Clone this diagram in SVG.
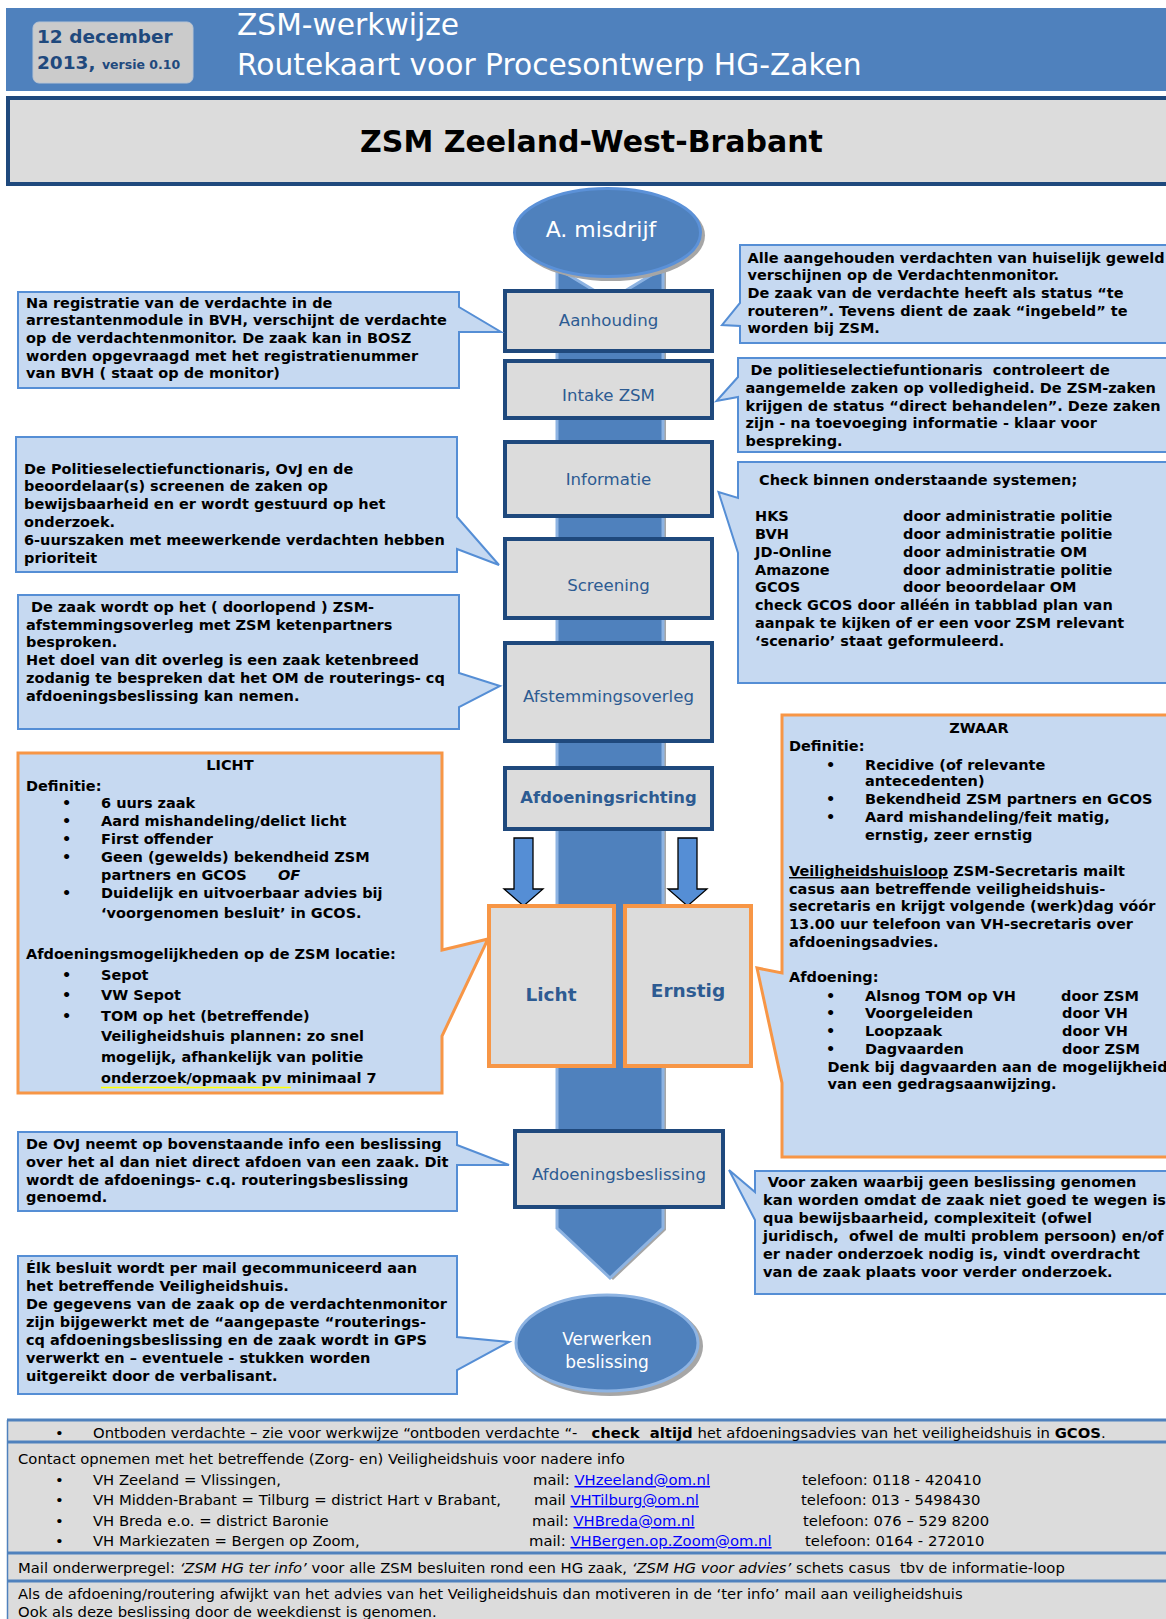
<svg xmlns="http://www.w3.org/2000/svg" width="1166" height="1619" viewBox="0 0 1166 1619">
<defs>
<style>
.t{font-family:'DejaVu Sans',Verdana,sans-serif;font-size:14.5px;font-weight:bold;fill:#000;white-space:pre}
.f{font-family:'DejaVu Sans',Verdana,sans-serif;font-size:14.8px;fill:#000;white-space:pre}
.co{fill:#c6d9f1;stroke:#558ed5;stroke-width:2}
.coo{fill:#c6d9f1;stroke:#f79646;stroke-width:3}
.pb{fill:#dcdcdc;stroke:#1f497d;stroke-width:4}
.po{fill:#dcdcdc;stroke:#f79646;stroke-width:4}
.pl{font-family:'DejaVu Sans',Verdana,sans-serif;font-size:16.6px;fill:#2d5b92;text-anchor:middle}
.plb{font-family:'DejaVu Sans',Verdana,sans-serif;font-size:16.4px;font-weight:bold;fill:#2d5b92;text-anchor:middle}
.el{font-family:'DejaVu Sans',Verdana,sans-serif;fill:#fff;text-anchor:middle}
.link{fill:#0000ff;text-decoration:underline}
.fr{fill:#dcdcdc}
.fl{stroke:#4f81bd;stroke-width:3}
.darr{fill:#558ed5;stroke:#000;stroke-width:1.3}
</style>
</defs>
<rect width="1166" height="1619" fill="#fff"/>

<g id="header">
<rect x="6" y="8" width="1170" height="83" fill="#4f81bd"/>
<rect x="33" y="22" width="160" height="61" rx="6" fill="#cbcbcb" stroke="#b8c4d4" stroke-width="1"/>
<text x="37" y="43" style="font-family:'DejaVu Sans',Verdana,sans-serif;font-size:18.5px;font-weight:bold;fill:#1f497d">12 december</text>
<text x="37" y="69" style="font-family:'DejaVu Sans',Verdana,sans-serif;font-size:18.5px;font-weight:bold;fill:#1f497d">2013, <tspan style="font-size:12.5px">versie 0.10</tspan></text>
<text x="237" y="35" style="font-family:'DejaVu Sans',Verdana,sans-serif;font-size:29.7px;fill:#fff">ZSM-werkwijze</text>
<text x="237" y="75" style="font-family:'DejaVu Sans',Verdana,sans-serif;font-size:29.7px;fill:#fff">Routekaart voor Procesontwerp HG-Zaken</text>
</g>

<g id="title">
<rect x="8" y="98" width="1170" height="86" fill="#dcdcdc" stroke="#1f497d" stroke-width="4"/>
<text x="591.5" y="152" style="font-family:'DejaVu Sans',Verdana,sans-serif;font-size:30px;font-weight:bold;fill:#000;text-anchor:middle">ZSM Zeeland-West-Brabant</text>
</g>

<g id="connectors">
<path d="M557,268 L610,300 L663,268 V1228 L610,1278 L557,1228 Z" fill="#a6a6a6" transform="translate(3,2)"/>
<path d="M557,268 L610,300 L663,268 V1228 L610,1278 L557,1228 Z" fill="#4f81bd" stroke="#8db3e2" stroke-width="3"/>
<polygon class="darr" points="514,838 533,838 533,889 543,889 523.5,906 504,889 514,889"/>
<polygon class="darr" points="678,838 697,838 697,889 707,889 687.5,906 668,889 678,889"/>
</g>

<g id="node-misdrijf">
<ellipse cx="610.5" cy="235.5" rx="94.5" ry="45.5" fill="#a6a6a6"/>
<ellipse cx="607.5" cy="232.5" rx="93" ry="44" fill="#4f81bd" stroke="#5b91d8" stroke-width="3"/>
<text class="el" x="601" y="237" style="font-size:22px">A. misdrijf</text>
</g>

<g id="node-aanhouding">
<rect class="pb" x="505" y="291" width="207" height="60"/>
<text class="pl" x="608.5" y="326">Aanhouding</text>
</g>
<g id="node-intake">
<rect class="pb" x="505" y="361" width="207" height="57"/>
<text class="pl" x="608.5" y="401">Intake ZSM</text>
</g>
<g id="node-informatie">
<rect class="pb" x="505" y="442" width="207" height="74"/>
<text class="pl" x="608.5" y="485">Informatie</text>
</g>
<g id="node-screening">
<rect class="pb" x="505" y="539" width="207" height="79"/>
<text class="pl" x="608.5" y="591">Screening</text>
</g>
<g id="node-afstemmingsoverleg">
<rect class="pb" x="505" y="643" width="207" height="98"/>
<text class="pl" x="608.5" y="702">Afstemmingsoverleg</text>
</g>
<g id="node-afdoeningsrichting">
<rect class="pb" x="505" y="768" width="207" height="61"/>
<text class="plb" x="608.5" y="803">Afdoeningsrichting</text>
</g>
<g id="node-licht">
<rect class="po" x="489" y="906" width="125" height="160"/>
<text class="plb" x="551" y="1001" style="font-size:18.5px">Licht</text>
</g>
<g id="node-ernstig">
<rect class="po" x="625" y="906" width="126" height="160"/>
<text class="plb" x="688" y="997" style="font-size:18.5px">Ernstig</text>
</g>
<g id="node-afdoeningsbeslissing">
<rect class="pb" x="515" y="1131" width="208" height="76"/>
<text class="pl" x="619" y="1180">Afdoeningsbeslissing</text>
</g>
<g id="node-verwerken">
<ellipse cx="610" cy="1346" rx="93" ry="50" fill="#a6a6a6"/>
<ellipse cx="607" cy="1343" rx="91" ry="48" fill="#4f81bd" stroke="#8db3e2" stroke-width="3"/>
<text class="el" x="607" y="1345" style="font-size:17px">Verwerken</text>
<text class="el" x="607" y="1368" style="font-size:17px">beslissing</text>
</g>

<g id="callout-registratie">
<path class="co" d="M18,292 H459 V307 L501,332 L459,332 V388 H18 Z"/>
<text class="t" x="26" y="307.5">Na registratie van de verdachte in de</text>
<text class="t" x="26" y="325.2">arrestantenmodule in BVH, verschijnt de verdachte</text>
<text class="t" x="26" y="342.9">op de verdachtenmonitor. De zaak kan in BOSZ</text>
<text class="t" x="26" y="360.6">worden opgevraagd met het registratienummer</text>
<text class="t" x="26" y="378.3">van BVH ( staat op de monitor)</text>
</g>

<g id="callout-screening">
<path class="co" d="M16,437 H457 V517 L499,565 L457,549 V572 H16 Z"/>
<text class="t" x="24" y="473.5">De Politieselectiefunctionaris, OvJ en de</text>
<text class="t" x="24" y="491.3">beoordelaar(s) screenen de zaken op</text>
<text class="t" x="24" y="509.1">bewijsbaarheid en er wordt gestuurd op het</text>
<text class="t" x="24" y="526.9">onderzoek.</text>
<text class="t" x="24" y="544.7">6-uurszaken met meewerkende verdachten hebben</text>
<text class="t" x="24" y="562.5">prioriteit</text>
</g>

<g id="callout-afstemming">
<path class="co" d="M18,595 H459 V673 L500,686 L459,707 V729 H18 Z"/>
<text class="t" x="31" y="612">De zaak wordt op het ( doorlopend ) ZSM-</text>
<text class="t" x="26" y="629.7">afstemmingsoverleg met ZSM ketenpartners</text>
<text class="t" x="26" y="647.4">besproken.</text>
<text class="t" x="26" y="665.1">Het doel van dit overleg is een zaak ketenbreed</text>
<text class="t" x="26" y="682.8">zodanig te bespreken dat het OM de routerings- cq</text>
<text class="t" x="26" y="700.5">afdoeningsbeslissing kan nemen.</text>
</g>

<g id="callout-licht">
<path class="coo" d="M18,753 H442 V950 L488,939 L442,1036 V1093 H18 Z"/>
<text class="t" x="230" y="770" style="text-anchor:middle">LICHT</text>
<text class="t" x="26" y="791">Definitie:</text>
<text class="t" x="62" y="808">•</text><text class="t" x="101" y="808">6 uurs zaak</text>
<text class="t" x="62" y="826">•</text><text class="t" x="101" y="826">Aard mishandeling/delict licht</text>
<text class="t" x="62" y="844">•</text><text class="t" x="101" y="844">First offender</text>
<text class="t" x="62" y="862">•</text><text class="t" x="101" y="862">Geen (gewelds) bekendheid ZSM</text>
<text class="t" x="101" y="880">partners en GCOS</text><text class="t" x="278" y="880" style="font-style:italic">OF</text>
<text class="t" x="62" y="898">•</text><text class="t" x="101" y="898">Duidelijk en uitvoerbaar advies bij</text>
<text class="t" x="101" y="918">‘voorgenomen besluit’ in GCOS.</text>
<text class="t" x="26" y="958.5">Afdoeningsmogelijkheden op de ZSM locatie:</text>
<text class="t" x="62" y="980">•</text><text class="t" x="101" y="980">Sepot</text>
<text class="t" x="62" y="1000">•</text><text class="t" x="101" y="1000">VW Sepot</text>
<text class="t" x="62" y="1021">•</text><text class="t" x="101" y="1021">TOM op het (betreffende)</text>
<text class="t" x="101" y="1041">Veiligheidshuis plannen: zo snel</text>
<text class="t" x="101" y="1062">mogelijk, afhankelijk van politie</text>
<text class="t" x="101" y="1083">onderzoek/opmaak pv minimaal 7</text>
<line x1="101" y1="1087.5" x2="291" y2="1087.5" stroke="#ffff00" stroke-width="1.5"/>
</g>

<g id="callout-zwaar">
<path class="coo" d="M782,715 H1180 V1157 H782 V1083 L757,968 L782,973 Z"/>
<text class="t" x="979" y="733" style="text-anchor:middle">ZWAAR</text>
<text class="t" x="789" y="751">Definitie:</text>
<text class="t" x="826" y="769.5">•</text><text class="t" x="865" y="769.5">Recidive (of relevante</text>
<text class="t" x="865" y="786">antecedenten)</text>
<text class="t" x="826" y="804.4">•</text><text class="t" x="865" y="804.4">Bekendheid ZSM partners en GCOS</text>
<text class="t" x="826" y="822.3">•</text><text class="t" x="865" y="822.3">Aard mishandeling/feit matig,</text>
<text class="t" x="865" y="840.3">ernstig, zeer ernstig</text>
<text class="t" x="789" y="876"><tspan style="text-decoration:underline">Veiligheidshuisloop</tspan> ZSM-Secretaris mailt</text>
<text class="t" x="789" y="894">casus aan betreffende veiligheidshuis-</text>
<text class="t" x="789" y="911">secretaris en krijgt volgende (werk)dag vóór</text>
<text class="t" x="789" y="928.6">13.00 uur telefoon van VH-secretaris over</text>
<text class="t" x="789" y="946.6">afdoeningsadvies.</text>
<text class="t" x="789" y="982">Afdoening:</text>
<text class="t" x="826" y="1000.7">•</text><text class="t" x="865" y="1000.7">Alsnog TOM op VH</text><text class="t" x="1061" y="1000.7">door ZSM</text>
<text class="t" x="826" y="1018.3">•</text><text class="t" x="865" y="1018.3">Voorgeleiden</text><text class="t" x="1062" y="1018.3">door VH</text>
<text class="t" x="826" y="1035.6">•</text><text class="t" x="865" y="1035.6">Loopzaak</text><text class="t" x="1062" y="1035.6">door VH</text>
<text class="t" x="826" y="1053.5">•</text><text class="t" x="865" y="1053.5">Dagvaarden</text><text class="t" x="1062" y="1053.5">door ZSM</text>
<text class="t" x="827.5" y="1071.5">Denk bij dagvaarden aan de mogelijkheid</text>
<text class="t" x="827.5" y="1089.4">van een gedragsaanwijzing.</text>
</g>

<g id="callout-aangehouden">
<path class="co" d="M740,245 H1180 V343 H740 V326 L722,325 L740,303 Z"/>
<text class="t" x="747.5" y="262.5">Alle aangehouden verdachten van huiselijk geweld</text>
<text class="t" x="747.5" y="280.2">verschijnen op de Verdachtenmonitor.</text>
<text class="t" x="747.5" y="297.9">De zaak van de verdachte heeft als status “te</text>
<text class="t" x="747.5" y="315.6">routeren”. Tevens dient de zaak “ingebeld” te</text>
<text class="t" x="747.5" y="333.3">worden bij ZSM.</text>
</g>

<g id="callout-politieselectie">
<path class="co" d="M738,358 H1180 V452 H738 V397 L716.5,401 L738,377 Z"/>
<text class="t" x="750.5" y="375">De politieselectiefuntionaris  controleert de</text>
<text class="t" x="745.5" y="392.8">aangemelde zaken op volledigheid. De ZSM-zaken</text>
<text class="t" x="745.5" y="410.6">krijgen de status “direct behandelen”. Deze zaken</text>
<text class="t" x="745.5" y="428.4">zijn - na toevoeging informatie - klaar voor</text>
<text class="t" x="745.5" y="446.2">bespreking.</text>
</g>

<g id="callout-systemen">
<path class="co" d="M738,462 H1180 V683 H738 V553 L718.5,492 L738,498 Z"/>
<text class="t" x="759" y="485">Check binnen onderstaande systemen;</text>
<text class="t" x="755" y="521">HKS</text><text class="t" x="903" y="521">door administratie politie</text>
<text class="t" x="755" y="539">BVH</text><text class="t" x="903" y="539">door administratie politie</text>
<text class="t" x="755" y="557">JD-Online</text><text class="t" x="903" y="557">door administratie OM</text>
<text class="t" x="755" y="575">Amazone</text><text class="t" x="903" y="575">door administratie politie</text>
<text class="t" x="755" y="592">GCOS</text><text class="t" x="903" y="592">door beoordelaar OM</text>
<text class="t" x="755" y="610">check GCOS door alléén in tabblad plan van</text>
<text class="t" x="755" y="628">aanpak te kijken of er een voor ZSM relevant</text>
<text class="t" x="755" y="646">‘scenario’ staat geformuleerd.</text>
</g>

<g id="callout-beslissing">
<path class="co" d="M18,1132 H457 V1145 L509,1165 L457,1165 V1211 H18 Z"/>
<text class="t" x="26" y="1149">De OvJ neemt op bovenstaande info een beslissing</text>
<text class="t" x="26" y="1166.8">over het al dan niet direct afdoen van een zaak. Dit</text>
<text class="t" x="26" y="1184.6">wordt de afdoenings- c.q. routeringsbeslissing</text>
<text class="t" x="26" y="1202.4">genoemd.</text>
</g>

<g id="callout-geen-beslissing">
<path class="co" d="M755,1171 H1180 V1294 H755 V1220 L729,1170 L755,1192 Z"/>
<text class="t" x="767.7" y="1187">Voor zaken waarbij geen beslissing genomen</text>
<text class="t" x="763" y="1205">kan worden omdat de zaak niet goed te wegen is</text>
<text class="t" x="763" y="1223">qua bewijsbaarheid, complexiteit (ofwel</text>
<text class="t" x="763" y="1241">juridisch,  ofwel de multi problem persoon) en/of</text>
<text class="t" x="763" y="1259">er nader onderzoek nodig is, vindt overdracht</text>
<text class="t" x="763" y="1277">van de zaak plaats voor verder onderzoek.</text>
</g>

<g id="callout-verwerken">
<path class="co" d="M18,1256 H457 V1337 L509,1342 L457,1370 V1394 H18 Z"/>
<text class="t" x="26" y="1273">Élk besluit wordt per mail gecommuniceerd aan</text>
<text class="t" x="26" y="1291">het betreffende Veiligheidshuis.</text>
<text class="t" x="26" y="1309">De gegevens van de zaak op de verdachtenmonitor</text>
<text class="t" x="26" y="1327">zijn bijgewerkt met de “aangepaste “routerings-</text>
<text class="t" x="26" y="1345">cq afdoeningsbeslissing en de zaak wordt in GPS</text>
<text class="t" x="26" y="1363">verwerkt en – eventuele - stukken worden</text>
<text class="t" x="26" y="1381">uitgereikt door de verbalisant.</text>
</g>

<g id="footer">
<rect class="fr" x="7" y="1420" width="1170" height="199"/>
<line class="fl" x1="7" y1="1420" x2="1166" y2="1420"/>
<line class="fl" x1="7" y1="1442" x2="1166" y2="1442"/>
<line class="fl" x1="7" y1="1553" x2="1166" y2="1553"/>
<line class="fl" x1="7" y1="1581" x2="1166" y2="1581"/>
<line x1="7.5" y1="1420" x2="7.5" y2="1619" stroke="#4f81bd" stroke-width="1.5"/>
<text class="f" x="55" y="1437.5">•</text>
<text class="f" x="93" y="1437.5">Ontboden verdachte – zie voor werkwijze “ontboden verdachte “-   <tspan font-weight="bold">check  altijd</tspan> het afdoeningsadvies van het veiligheidshuis in <tspan font-weight="bold">GCOS</tspan>.</text>
<text class="f" x="18" y="1464">Contact opnemen met het betreffende (Zorg- en) Veiligheidshuis voor nadere info</text>
<text class="f" x="55" y="1485">•</text><text class="f" x="93" y="1485">VH Zeeland = Vlissingen,</text>
<text class="f" x="533" y="1485">mail: <tspan class="link">VHzeeland@om.nl</tspan></text><text class="f" x="802" y="1485">telefoon: 0118 - 420410</text>
<text class="f" x="55" y="1505">•</text><text class="f" x="93" y="1505">VH Midden-Brabant = Tilburg = district Hart v Brabant,</text>
<text class="f" x="534" y="1505">mail <tspan class="link">VHTilburg@om.nl</tspan></text><text class="f" x="801" y="1505">telefoon: 013 - 5498430</text>
<text class="f" x="55" y="1526">•</text><text class="f" x="93" y="1526">VH Breda e.o. = district Baronie</text>
<text class="f" x="532" y="1526">mail: <tspan class="link">VHBreda@om.nl</tspan></text><text class="f" x="803" y="1526">telefoon: 076 – 529 8200</text>
<text class="f" x="55" y="1546">•</text><text class="f" x="93" y="1546">VH Markiezaten = Bergen op Zoom,</text>
<text class="f" x="529" y="1546">mail: <tspan class="link">VHBergen.op.Zoom@om.nl</tspan></text><text class="f" x="805" y="1546">telefoon: 0164 - 272010</text>
<text class="f" x="18" y="1573">Mail onderwerpregel: <tspan font-style="italic">‘ZSM HG ter info’</tspan> voor alle ZSM besluiten rond een HG zaak, <tspan font-style="italic">‘ZSM HG voor advies’</tspan> schets casus  tbv de informatie-loop</text>
<text class="f" x="18" y="1598.5">Als de afdoening/routering afwijkt van het advies van het Veiligheidshuis dan motiveren in de ‘ter info’ mail aan veiligheidshuis</text>
<text class="f" x="18" y="1617">Ook als deze beslissing door de weekdienst is genomen.</text>
</g>
</svg>
